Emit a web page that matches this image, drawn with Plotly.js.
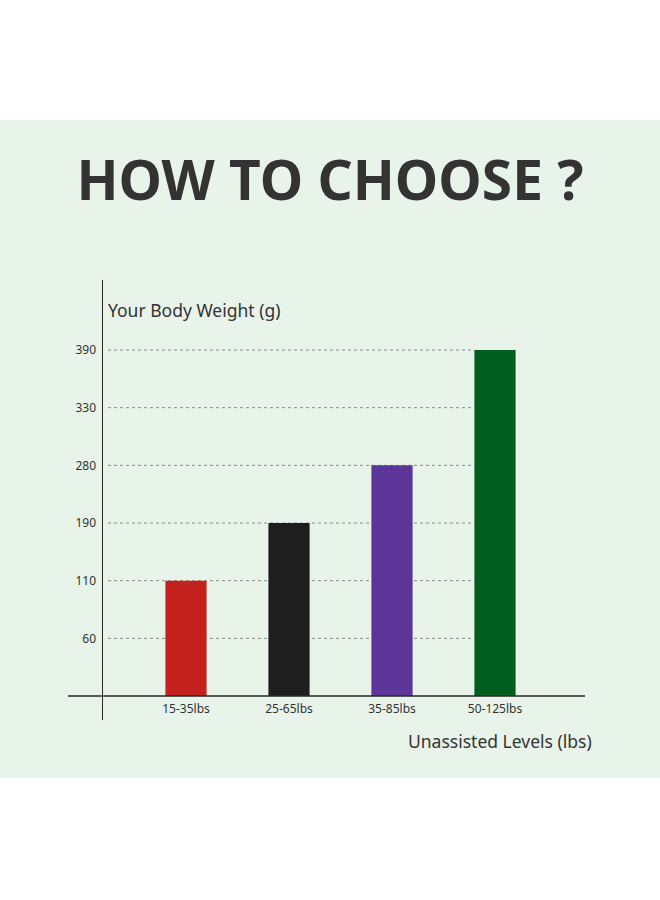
<!DOCTYPE html>
<html><head><meta charset="utf-8">
<script src="https://cdn.plot.ly/plotly-3.0.1.min.js"></script>
<style>html,body{margin:0;padding:0;background:#fff}#chart{width:660px;height:900px}</style>
</head><body><div id="chart"></div>
<script>
const levels = ['15-35lbs', '25-65lbs', '35-85lbs', '50-125lbs'];
const weights = ['110', '190', '280', '390'];
const yTicks = ['60', '110', '190', '280', '330', '390'];
const barColors = ['#c4221f', '#1e1e1e', '#5b3597', '#005f1f'];

const W = 660, H = 900;
const plotL = 103, plotR = 585, plotT = 280, plotB = 720;
const baseY = 696;

const catArray = ['0'].concat(yTicks);
const unit = (baseY - 350) / yTicks.length;
const yLo = -(plotB - baseY) / unit;
const yHi = (baseY - plotT) / unit;
const xUnit = 103;
const xLo = -(186 - plotL) / xUnit;
const xHi = xLo + (plotR - plotL) / xUnit;

const shapes = [
  {type:'rect', xref:'paper', yref:'paper', x0:-plotL/(plotR-plotL), x1:(W-plotL)/(plotR-plotL),
   y0:(H-778-(H-plotB))/(plotB-plotT), y1:(H-120-(H-plotB))/(plotB-plotT),
   fillcolor:'#e8f4ea', line:{width:0}, layer:'below'}
];
yTicks.forEach((t, i) => {
  shapes.push({type:'line', xref:'x', yref:'y', x0:xLo + 5/xUnit, x1:levels.length - 1 - 0.2,
    y0:i + 1, y1:i + 1, line:{color:'#8a8a8a', width:1, dash:'dot'}, layer:'below'});
});
shapes.push({type:'line', xref:'paper', yref:'y', x0:(68-plotL)/(plotR-plotL), x1:1, y0:0, y1:0,
  line:{color:'#2a2a2a', width:1.5}});

const data = [{
  type:'bar', x:levels, y:weights, marker:{color:barColors, line:{width:0}}, width:0.4,
  hoverinfo:'none'
}];

const layout = {
  width:W, height:H,
  margin:{l:plotL, r:W-plotR, t:plotT, b:H-plotB, pad:0},
  paper_bgcolor:'#ffffff', plot_bgcolor:'rgba(0,0,0,0)',
  font:{family:'Noto Sans, sans-serif', color:'#333'},
  showlegend:false,
  title:{text:'<b>HOW TO CHOOSE ?</b>', x:0.5, xref:'container', xanchor:'center',
    y:(H-181)/H, yref:'container', yanchor:'middle',
    font:{family:'Noto Sans, sans-serif', size:55, color:'#333'}},
  xaxis:{type:'category', range:[xLo, xHi], showgrid:false, zeroline:false, showline:false,
    ticks:'', anchor:'free', position:(plotB-baseY)/(plotB-plotT), tickfont:{size:12, color:'#333'},
    ticklabelstandoff:4, fixedrange:true},
  yaxis:{type:'category', categoryarray:catArray, categoryorder:'array', range:[yLo, yHi],
    tickmode:'array', tickvals:yTicks, ticktext:yTicks,
    showgrid:false, zeroline:false, showline:true, linecolor:'#2a2a2a', linewidth:1.5,
    ticks:'', ticklabelstandoff:3, tickfont:{size:12, color:'#333'}, fixedrange:true},
  shapes:shapes,
  annotations:[
    {text:'Your Body Weight (g)', xref:'paper', yref:'paper', x:(106-plotL)/(plotR-plotL), xanchor:'left',
     y:(plotB-310)/(plotB-plotT), yanchor:'middle', showarrow:false, font:{size:17.5, color:'#333'}},
    {text:'Unassisted Levels (lbs)', xref:'paper', yref:'paper', x:(594-plotL)/(plotR-plotL), xanchor:'right',
     y:(plotB-741)/(plotB-plotT), yanchor:'middle', showarrow:false, font:{size:17.5, color:'#333'}}
  ]
};
Plotly.newPlot('chart', data, layout, {displayModeBar:false, staticPlot:true});
</script></body></html>
